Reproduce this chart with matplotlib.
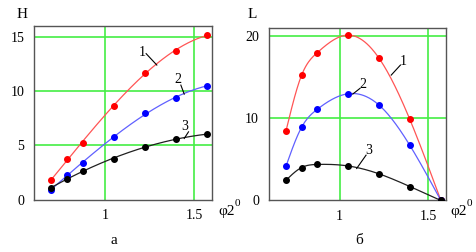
import numpy as np
import matplotlib
matplotlib.use("Agg")
import matplotlib.pyplot as plt

# angle phi2 (rad) at which H and L were computed
phi = [0.698, 0.785, 0.873, 1.047, 1.222, 1.396, 1.571]

# panel a: H
H1 = [1.8, 3.75, 5.25, 8.6, 11.7, 13.7, 15.15]
H2 = [0.92, 2.3, 3.35, 5.72, 7.94, 9.35, 10.5]
H3 = [1.1, 1.9, 2.6, 3.78, 4.86, 5.54, 6.03]

# panel b: L
L1 = [8.5, 15.2, 17.95, 20.1, 17.3, 9.85, 0.0]
L2 = [4.2, 8.88, 11.07, 12.97, 11.6, 6.7, 0.0]
L3 = [2.47, 4.0, 4.38, 4.2, 3.24, 1.7, 0.0]

serif = "Liberation Serif"
green = "#44ee44"


def nat_spline(x, y, xs):
    # natural cubic spline through the points
    x = np.asarray(x, float)
    y = np.asarray(y, float)
    n = len(x)
    h = np.diff(x)
    A = np.zeros((n, n))
    b = np.zeros(n)
    A[0, 0] = A[-1, -1] = 1
    for i in range(1, n - 1):
        A[i, i - 1] = h[i - 1]
        A[i, i] = 2 * (h[i - 1] + h[i])
        A[i, i + 1] = h[i]
        b[i] = 3 * ((y[i + 1] - y[i]) / h[i] - (y[i] - y[i - 1]) / h[i - 1])
    c = np.linalg.solve(A, b)
    bb = (y[1:] - y[:-1]) / h - h * (2 * c[:-1] + c[1:]) / 3
    d = (c[1:] - c[:-1]) / (3 * h)
    idx = np.clip(np.searchsorted(x, xs) - 1, 0, n - 2)
    t = xs - x[idx]
    return y[idx] + bb[idx] * t + c[idx] * t ** 2 + d[idx] * t ** 3


def style_axes(ax, ylim, yticks):
    ax.set_xlim(0.6, 1.6)
    ax.set_ylim(*ylim)
    ax.set_xticks([1, 1.5])
    ax.set_xticklabels(["1", "1.5"])
    ax.set_yticks(yticks)
    ax.set_yticklabels([str(v) for v in yticks])
    ax.tick_params(length=0, pad=7, labelsize=10)
    for lab in ax.get_xticklabels() + ax.get_yticklabels():
        lab.set_fontfamily(serif)
    for v in [1, 1.5]:
        ax.axvline(v, color=green, lw=1.2, zorder=1)
    for v in yticks[1:]:
        ax.axhline(v, color=green, lw=1.2, zorder=1)
    for sp in ax.spines.values():
        sp.set_color("#555555")
        sp.set_linewidth(1.0)


fig = plt.figure(figsize=(4.76, 2.52), dpi=100)
ax1 = fig.add_axes([0.0714, 0.2083, 0.374, 0.6885])
ax2 = fig.add_axes([0.5645, 0.2044, 0.3725, 0.6857])

style_axes(ax1, (0, 16), [0, 5, 10, 15])
style_axes(ax2, (0, 21), [0, 10, 20])

xs = np.linspace(phi[0], phi[-1], 200)
cols = [("#ff0000", "#ff5555"), ("#0000ff", "#6060ff"), ("#000000", "#202020")]

# panel a: smooth least-squares curves
for ys, (pc, lc) in zip([H1, H2, H3], cols):
    p = np.polyfit(phi, ys, 3)
    ax1.plot(xs, np.polyval(p, xs), color=lc, lw=0.9, zorder=2)
    ax1.plot(phi, ys, "o", color=pc, ms=4, zorder=3)

# panel b: splines through the points
for ys, (pc, lc) in zip([L1, L2, L3], cols):
    ax2.plot(xs, nat_spline(phi, ys, xs), color=lc, lw=0.9, zorder=2)
    ax2.plot(phi, ys, "o", color=pc, ms=4, zorder=3)

# curve numbers with leader lines
lbl_a = [("1", (1.206, 13.6), (1.23, 13.45), (1.29, 12.4)),
         ("2", (1.408, 11.1), (1.425, 10.55), (1.444, 9.72)),
         ("3", (1.449, 6.75), (1.468, 6.24), (1.444, 5.63))]
lbl_b = [("1", (1.359, 16.95), (1.343, 16.46), (1.291, 15.24)),
         ("2", (1.130, 14.15), (1.115, 13.63), (1.074, 12.93)),
         ("3", (1.164, 6.03), (1.149, 5.51), (1.096, 3.89))]
for ax, lbls in [(ax1, lbl_a), (ax2, lbl_b)]:
    for s, tp, p0, p1 in lbls:
        ax.text(tp[0], tp[1], s, fontfamily=serif, fontsize=10,
                ha="center", va="center", zorder=4)
        ax.plot([p0[0], p1[0]], [p0[1], p1[1]], color="black", lw=0.8, zorder=4)

# axis names and captions
fig.text(22 / 476, 1 - 14 / 252, "H", fontfamily=serif, fontsize=11, ha="center", va="center")
fig.text(252 / 476, 1 - 15 / 252, "L", fontfamily=serif, fontsize=11, ha="center", va="center")
for x0 in [218, 450]:
    fig.text(x0 / 476, 1 - 215 / 252, "φ2", fontfamily=serif, fontsize=11, ha="left", va="baseline")
    fig.text((x0 + 17) / 476, 1 - 206 / 252, "0", fontfamily=serif, fontsize=8, ha="left", va="baseline")
fig.text(114 / 476, 1 - 241 / 252, "а", fontfamily=serif, fontsize=11, ha="center", va="center")
fig.text(359 / 476, 1 - 241 / 252, "б", fontfamily=serif, fontsize=11, ha="center", va="center")

fig.savefig("out.png", dpi=100)
